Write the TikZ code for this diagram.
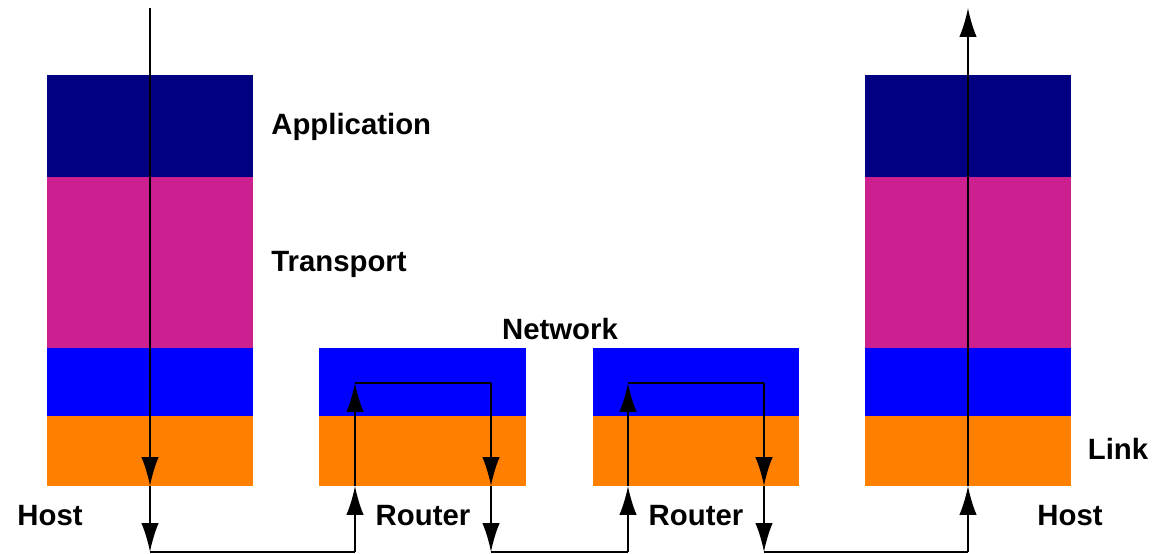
\documentclass[tikz,border=0pt]{standalone}
\usepackage{xcolor}
\usepackage{tikz}
\usepackage{fontspec}
\setsansfont{Liberation Sans}
\usetikzlibrary{arrows.meta}
\usetikzlibrary{calc,positioning}
\definecolor{appcolor}{RGB}{0,0,128}
\definecolor{transcolor}{RGB}{205,32,144}
\definecolor{netcolor}{RGB}{0,0,255}
\definecolor{linkcolor}{RGB}{255,128,0}
\tikzset{%
  >={Latex[width=3.5mm,length=5.8mm]},
  % Specifications for style of layers:
  layer/.style = {rectangle, draw=none, inner sep=0pt, outer sep=0pt,
    minimum width=4.13cm},
  application/.style = {layer, fill=appcolor, minimum height=2.04cm},
  transport/.style = {layer, fill=transcolor, minimum height=3.42cm},
  network/.style = {layer, fill=netcolor, minimum height=1.36cm},
  linklayer/.style = {layer, fill=linkcolor, minimum height=1.4cm},
  label/.style = {inner sep=0pt, font=\sffamily\bfseries\fontsize{16.7}{20}\selectfont},
  flow/.style = {line width=1.1pt},
}
\begin{document}
\begin{tikzpicture}[x=0.02cm, y=-0.02cm]
        \useasboundingbox (0,0) rectangle (1157,554);
        % Specification of layers (position, etc.)
        \node(HAapp)[application] at (150,126) {};
        \node(HAtrans)[transport,below=0pt of HAapp] {};
        \node(HAnet)[network,below=0pt of HAtrans] {};
        \node(HAlink)[linklayer,below=0pt of HAnet] {};
        \node(RAnet)[network] at (422.5,382) {};
        \node(RAlink)[linklayer,below=0pt of RAnet] {};
        \node(RBnet)[network] at (696,382) {};
        \node(RBlink)[linklayer,below=0pt of RBnet] {};
        \node(HBapp)[application] at (968,126) {};
        \node(HBtrans)[transport,below=0pt of HBapp] {};
        \node(HBnet)[network,below=0pt of HBtrans] {};
        \node(HBlink)[linklayer,below=0pt of HBnet] {};
        % Labels
        \node(Lapp)[label,anchor=west] at (271,127) {Application};
        \node(Ltrans)[label,anchor=west] at (271,264) {Transport};
        \node(Lnet)[label] at (560,329) {Network};
        \node(Llink)[label] at (1118,449) {Link};
        \node(LhostA)[label] at (50,516) {Host};
        \node(LrouterA)[label] at (423,516) {Router};
        \node(LrouterB)[label] at (696,516) {Router};
        \node(LhostB)[label] at (1070,516) {Host};
        % Path of the data
        \coordinate (Start) at (150,8);
        \coordinate (HAin) at (150,486);
        \coordinate (HAbot) at (150,552);
        \coordinate (RAinbot) at (355,552);
        \coordinate (RAin) at (355,486);
        \coordinate (RAup) at (355,383);
        \coordinate (RAtop) at (491,383);
        \coordinate (RAout) at (491,486);
        \coordinate (RAoutbot) at (491,552);
        \coordinate (RBinbot) at (628,552);
        \coordinate (RBin) at (628,486);
        \coordinate (RBup) at (628,383);
        \coordinate (RBtop) at (764,383);
        \coordinate (RBout) at (764,486);
        \coordinate (RBoutbot) at (764,552);
        \coordinate (HBbot) at (968,552);
        \coordinate (HBin) at (968,486);
        \coordinate (Stop) at (968,8);
        \draw[flow,->](Start) -- (HAin);
        \draw[flow,->](HAin) -- (HAbot);
        \draw[flow](HAbot) -- (RAinbot);
        \draw[flow,->](RAinbot) -- (RAin);
        \draw[flow,->](RAin) -- (RAup);
        \draw[flow](RAup) -- (RAtop);
        \draw[flow,->](RAtop) -- (RAout);
        \draw[flow,->](RAout) -- (RAoutbot);
        \draw[flow](RAoutbot) -- (RBinbot);
        \draw[flow,->](RBinbot) -- (RBin);
        \draw[flow,->](RBin) -- (RBup);
        \draw[flow](RBup) -- (RBtop);
        \draw[flow,->](RBtop) -- (RBout);
        \draw[flow,->](RBout) -- (RBoutbot);
        \draw[flow](RBoutbot) -- (HBbot);
        \draw[flow,->](HBbot) -- (HBin);
        \draw[flow,->](HBin) -- (Stop);
    \end{tikzpicture}
\end{document}
